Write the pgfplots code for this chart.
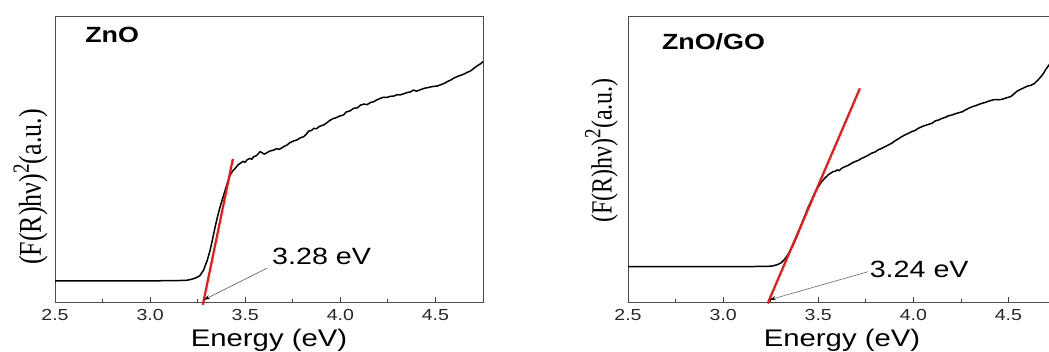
\documentclass[border=0pt]{standalone}
\usepackage{pgfplots}
\pgfplotsset{compat=1.18}
\usepackage{fontspec}
\usetikzlibrary{arrows.meta}
\newfontfamily\sfw[FakeStretch=1.22]{Liberation Sans}
\newfontfamily\serifw{Liberation Serif}
\definecolor{fitred}{RGB}{240,20,20}

\tikzset{
  ann/.style={black!60, line width=0.6pt, -{Stealth[length=6pt,width=4pt,black]}},
}
\pgfplotsset{
  panel/.style={
    scale only axis, width=428pt, height=286pt, anchor=south west,
    xmin=2.5, xmax=4.75, ymin=0, ymax=1,
    ytick=\empty,
    xtick={2.5,3.0,3.5,4.0,4.5},
    xticklabels={2.5,3.0,3.5,4.0,4.5},
    minor xtick={2.75,3.25,3.75,4.25},
    xtick pos=lower, tick align=inside,
    major tick length=5pt, minor tick length=3pt,
    tick style={black!75, line width=0.8pt},
    axis line style={draw=black!70, line width=0.9pt},
    xticklabel style={anchor=center, yshift=-13pt, font=\sfw\fontsize{16}{16}\selectfont, text=black!85},
    xlabel={Energy (eV)},
    xlabel style={at={(axis description cs:0.5,0)}, anchor=base, yshift=-45pt, font=\sfw\fontsize{24}{24}\selectfont},
    clip=false,
  },
  curve/.style={black, line width=1.5pt, line join=round},
  fit/.style={fitred, line width=2.2pt},
}
\newcommand{\ylab}{\scalebox{1}[1.22]{(F(R)hν)\raisebox{0.38em}{\fontsize{19}{19}\selectfont 2}(a.u.)}}

\pgfplotstableread{
E y
2.50 0.074
2.80 0.074
3.00 0.074
3.10 0.0745
3.15 0.075
3.19 0.076
3.21 0.078
3.235 0.083
3.26 0.091
3.28 0.110
3.30 0.145
3.316 0.182
3.33 0.225
3.342 0.263
3.355 0.300
3.368 0.333
3.382 0.364
3.395 0.392
3.408 0.420
3.421 0.444
3.434 0.458
3.447 0.467
3.46 0.478
3.474 0.485
3.49 0.492
3.50 0.488
3.509 0.497
3.525 0.502
3.535 0.499
3.544 0.508
3.56 0.512
3.57 0.520
3.579 0.526
3.59 0.521
3.60 0.517
3.614 0.522
3.63 0.528
3.649 0.531
3.665 0.536
3.68 0.534
3.702 0.543
3.72 0.549
3.735 0.557
3.754 0.563
3.77 0.566
3.79 0.574
3.807 0.578
3.82 0.586
3.835 0.598
3.85 0.600
3.86 0.607
3.875 0.606
3.89 0.614
3.912 0.619
3.93 0.627
3.945 0.635
3.965 0.642
3.98 0.645
4.00 0.651
4.017 0.654
4.03 0.664
4.05 0.668
4.07 0.677
4.09 0.679
4.105 0.688
4.123 0.692
4.14 0.690
4.16 0.698
4.175 0.700
4.19 0.706
4.21 0.712
4.228 0.716
4.245 0.715
4.26 0.719
4.281 0.720
4.30 0.725
4.315 0.724
4.333 0.728
4.35 0.732
4.37 0.735
4.385 0.741
4.40 0.737
4.42 0.742
4.44 0.747
4.456 0.749
4.475 0.752
4.49 0.754
4.509 0.755
4.525 0.759
4.545 0.764
4.561 0.770
4.58 0.776
4.60 0.784
4.614 0.788
4.63 0.792
4.65 0.797
4.667 0.803
4.685 0.808
4.702 0.817
4.72 0.826
4.735 0.832
4.75 0.840
}\zno

\pgfplotstableread{
E y
2.50 0.1235
2.80 0.1235
3.00 0.1235
3.15 0.124
3.234 0.1245
3.26 0.126
3.287 0.131
3.305 0.137
3.322 0.148
3.34 0.165
3.357 0.186
3.375 0.210
3.393 0.238
3.41 0.268
3.428 0.298
3.445 0.328
3.463 0.354
3.48 0.378
3.498 0.400
3.515 0.418
3.533 0.432
3.555 0.446
3.578 0.456
3.59 0.457
3.60 0.462
3.61 0.459
3.622 0.467
3.64 0.473
3.655 0.477
3.675 0.485
3.69 0.490
3.71 0.495
3.728 0.502
3.745 0.507
3.76 0.512
3.78 0.520
3.80 0.525
3.815 0.532
3.833 0.537
3.85 0.543
3.868 0.549
3.886 0.555
3.90 0.562
3.92 0.570
3.939 0.578
3.955 0.584
3.975 0.590
3.992 0.596
4.01 0.600
4.025 0.607
4.045 0.613
4.06 0.617
4.08 0.621
4.098 0.625
4.115 0.633
4.135 0.637
4.151 0.642
4.17 0.646
4.185 0.651
4.204 0.654
4.22 0.658
4.24 0.662
4.257 0.665
4.275 0.672
4.29 0.677
4.31 0.683
4.325 0.686
4.345 0.691
4.362 0.695
4.38 0.698
4.40 0.703
4.415 0.706
4.43 0.708
4.45 0.707
4.468 0.709
4.49 0.714
4.512 0.718
4.53 0.728
4.545 0.737
4.556 0.741
4.575 0.747
4.601 0.755
4.62 0.758
4.636 0.764
4.655 0.776
4.671 0.788
4.685 0.800
4.694 0.811
4.72 0.835
4.75 0.860
}\znogo

\begin{document}
\begin{tikzpicture}
\begin{axis}[panel, at={(55pt,50pt)},
  ylabel={\ylab},
  ylabel style={at={(axis description cs:-0.057,0.402)}, anchor=center, font=\serifw\fontsize{26}{26}\selectfont},
]
\addplot[curve] table[x=E, y=y] {\zno};
\addplot[fit] coordinates {(3.277,-0.01) (3.435,0.50)};
\draw[ann] (axis cs:3.614,0.118) -- (axis cs:3.283,0.008);
\node[anchor=west, inner sep=0pt, font=\sfw\fontsize{23.5}{24}\selectfont] at (axis cs:3.641,0.158) {3.28 eV};
\node[anchor=west, inner sep=0pt, font=\sfw\bfseries\fontsize{22}{22}\selectfont] at (axis cs:2.658,0.934) {ZnO};
\end{axis}

\begin{axis}[panel, at={(628pt,50pt)},
  ylabel={\ylab},
  ylabel style={at={(axis description cs:-0.062,0.53)}, anchor=center, font=\serifw\fontsize{24}{24}\selectfont},
]
\addplot[curve] table[x=E, y=y] {\znogo};
\addplot[fit] coordinates {(3.234,-0.005) (3.719,0.747)};
\draw[ann] (axis cs:3.763,0.106) -- (axis cs:3.245,0.008);
\node[anchor=west, inner sep=0pt, font=\sfw\fontsize{23.5}{24}\selectfont] at (axis cs:3.77,0.115) {3.24 eV};
\node[anchor=west, inner sep=0pt, font=\sfw\bfseries\fontsize{22}{22}\selectfont] at (axis cs:2.678,0.910) {ZnO/GO};
\end{axis}
\pgfresetboundingbox
\useasboundingbox (0,0) rectangle (1049pt,352pt);
\end{tikzpicture}
\end{document}
